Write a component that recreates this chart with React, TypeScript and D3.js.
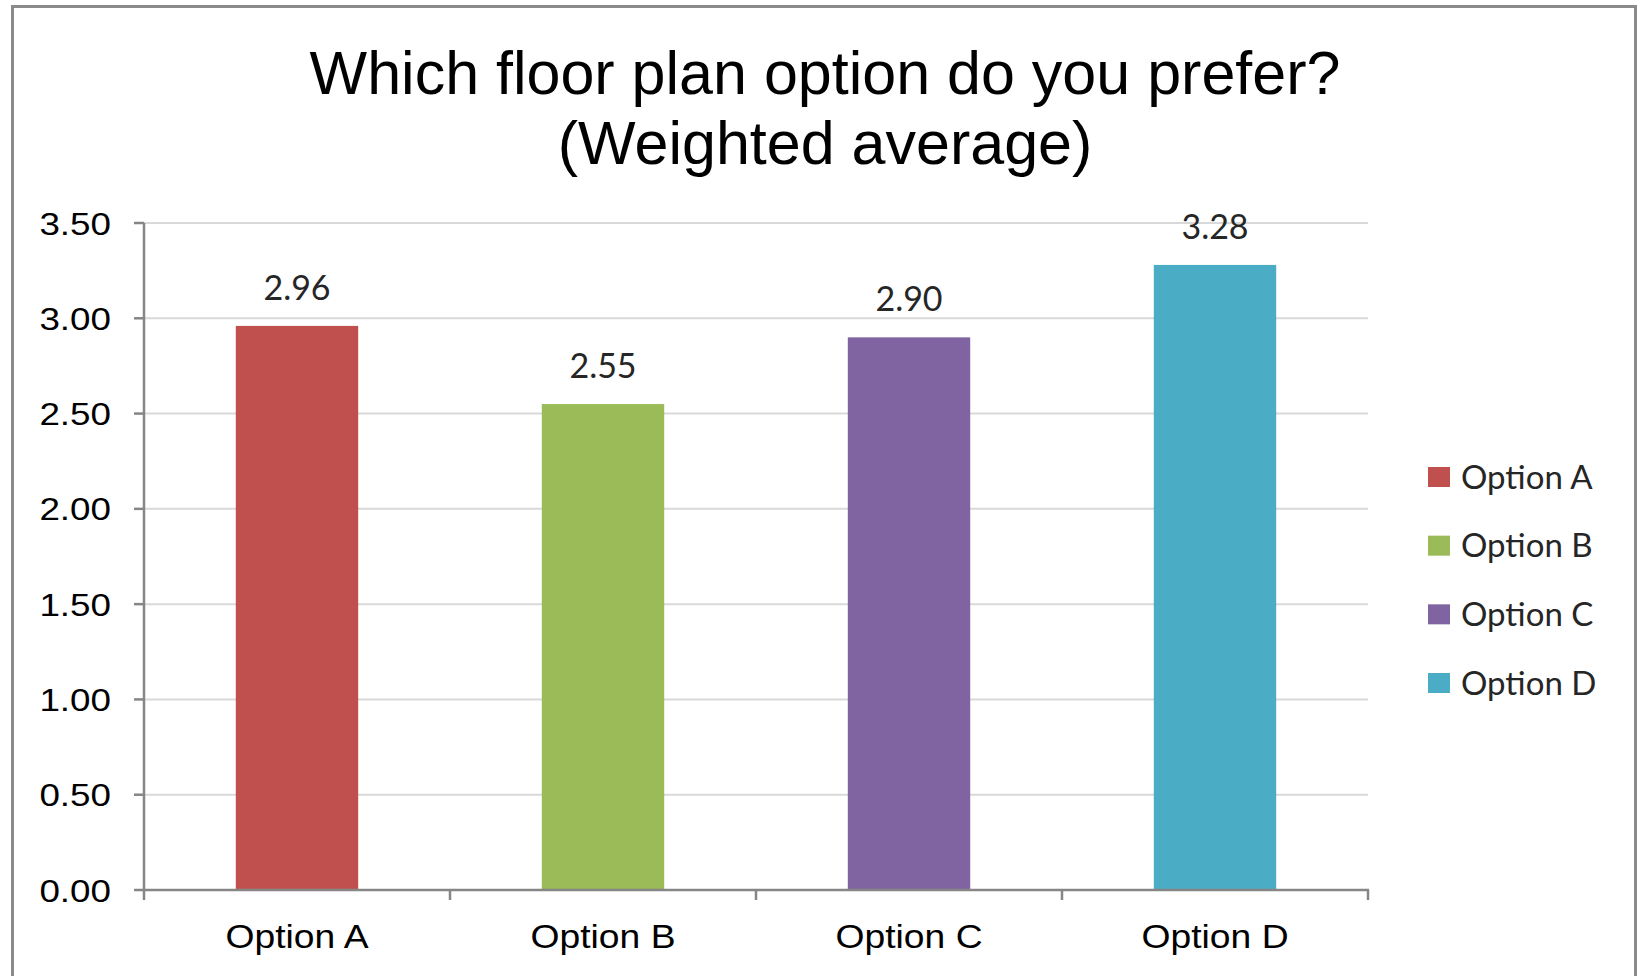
import React from "react";
import * as d3 from "d3";

const categories = ["Option A", "Option B", "Option C", "Option D"];
const values = [2.96, 2.55, 2.9, 3.28];
const colors = ["#C0504D", "#9BBB59", "#8064A2", "#4BACC6"];
const yTicks = [0, 0.5, 1, 1.5, 2, 2.5, 3, 3.5];
const titleLines = ["Which floor plan option do you prefer?", "(Weighted average)"];

const W = 1643;
const H = 976;
const plot = { left: 144, right: 1368, top: 223, bottom: 890 };
const axisFont = "'Liberation Sans', Arial, sans-serif";
const labelFont = "Lato, 'Open Sans', sans-serif";
const stretch = 1.13;

export default function App() {
  const x = d3
    .scaleBand<string>()
    .domain(categories)
    .range([plot.left, plot.right])
    .paddingInner(0.6)
    .paddingOuter(0.3);
  const y = d3.scaleLinear().domain([0, 3.5]).range([plot.bottom, plot.top]);
  const step = x.step();
  const slotEdges = d3.range(categories.length + 1).map((i) => plot.left + i * step);

  const legendY = d3
    .scalePoint<string>()
    .domain(categories)
    .range([477, 683]);

  return (
    <svg
      width={W}
      height={H}
      style={{ position: "absolute", left: 0, top: 0, display: "block", background: "#fff" }}
    >
      <rect x={0} y={0} width={W} height={H} fill="#fff" />
      <rect x={12.5} y={6.5} width={1623} height={1000} fill="#fff" stroke="#8a8a8a" strokeWidth={3} />

      {titleLines.map((t, i) => (
        <text
          key={t}
          x={825}
          y={94 + i * 70}
          textAnchor="middle"
          fontFamily={axisFont}
          fontSize={61}
          fill="#000"
        >
          {t}
        </text>
      ))}

      {yTicks.map((v) => (
        <line
          key={"g" + v}
          x1={plot.left}
          x2={plot.right}
          y1={y(v)}
          y2={y(v)}
          stroke="#d9d9d9"
          strokeWidth={2}
        />
      ))}

      {categories.map((c, i) => (
        <rect
          key={c}
          x={x(c)}
          y={y(values[i])}
          width={x.bandwidth()}
          height={y(0) - y(values[i])}
          fill={colors[i]}
        />
      ))}

      <line x1={plot.left} x2={plot.left} y1={plot.top} y2={plot.bottom} stroke="#868686" strokeWidth={2.5} />
      <line x1={plot.left - 1} x2={plot.right + 1} y1={plot.bottom} y2={plot.bottom} stroke="#868686" strokeWidth={2.5} />
      {yTicks.map((v) => (
        <line key={"t" + v} x1={plot.left - 10} x2={plot.left} y1={y(v)} y2={y(v)} stroke="#868686" strokeWidth={2.5} />
      ))}
      {slotEdges.map((xe, i) => (
        <line key={"xt" + i} x1={xe} x2={xe} y1={plot.bottom} y2={plot.bottom + 10} stroke="#868686" strokeWidth={2.5} />
      ))}

      {yTicks.map((v) => (
        <text
          key={"yl" + v}
          transform={`translate(111,${y(v) + 11.5}) scale(1.15,1)`}
          textAnchor="end"
          fontFamily={axisFont}
          fontSize={32}
          fill="#000"
        >
          {d3.format(".2f")(v)}
        </text>
      ))}

      {categories.map((c) => (
        <text
          key={"xl" + c}
          transform={`translate(${(x(c) as number) + x.bandwidth() / 2},948) scale(${stretch},1)`}
          textAnchor="middle"
          fontFamily={axisFont}
          fontSize={33}
          fill="#000"
        >
          {c}
        </text>
      ))}

      {categories.map((c, i) => (
        <text
          key={"dl" + c}
          x={(x(c) as number) + x.bandwidth() / 2}
          y={y(values[i]) - 26}
          textAnchor="middle"
          fontFamily={labelFont}
          fontSize={34}
          fill="#262626"
        >
          {d3.format(".2f")(values[i])}
        </text>
      ))}

      {categories.map((c, i) => (
        <g key={"lg" + c} transform={`translate(1428,${legendY(c)})`}>
          <rect x={0} y={-10} width={22} height={20} fill={colors[i]} />
          <text x={33} y={11.5} fontFamily={labelFont} fontSize={33} fill="#262626">
            {c}
          </text>
        </g>
      ))}
    </svg>
  );
}
